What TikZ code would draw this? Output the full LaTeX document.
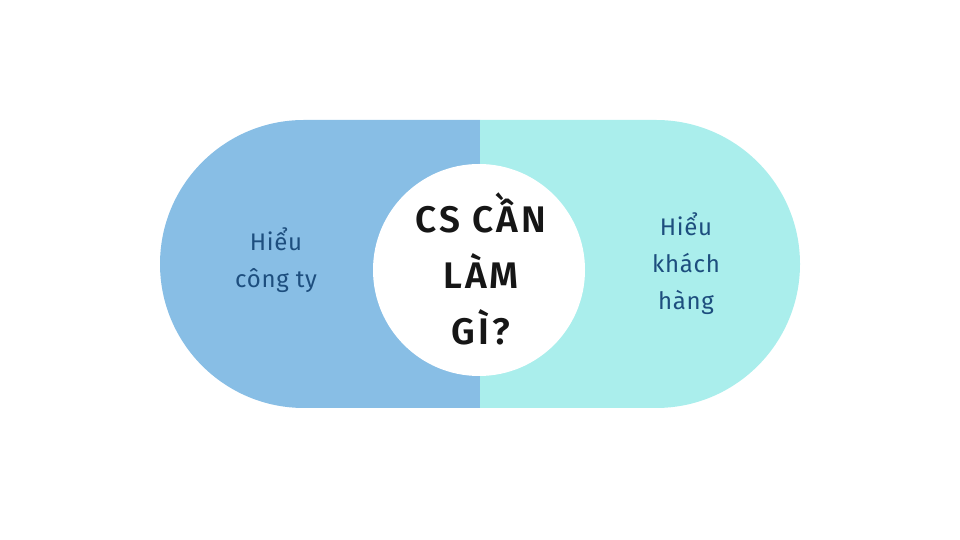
\documentclass[tikz,border=0pt]{standalone}
\usepackage{fontspec}
\setmainfont{Fira Sans}
\newfontfamily\titlefont[LetterSpace=8]{Fira Sans SemiBold}
\definecolor{leftblue}{HTML}{88BEE5}
\definecolor{rightcyan}{HTML}{AAEEEC}
\definecolor{textblue}{HTML}{1D4E7E}
\definecolor{titleblack}{HTML}{161616}
\begin{document}
\begin{tikzpicture}[x=1pt,y=1pt,
  sidetext/.style={text=textblue, font=\fontsize{24}{37}\selectfont\addfontfeatures{LetterSpace=3}, align=center, inner sep=0pt},
  titletext/.style={text=titleblack, font=\fontsize{37}{56}\titlefont, align=center, inner sep=0pt}]
\useasboundingbox (0,0) rectangle (960,540);
\fill[leftblue] (480,420) -- (304,420) arc[start angle=90, end angle=270, radius=144] -- (480,132) -- cycle;
\fill[rightcyan] (480,420) -- (656,420) arc[start angle=90, end angle=-90, radius=144] -- (480,132) -- cycle;
\node[circle, fill=white, minimum size=212pt, inner sep=0pt] (hub) at (479,270) {};
\node[titletext] (title) at (481,271) {CS CẦN\\LÀM\\GÌ?};
\node[sidetext] (left) at (276,280) {Hiểu\\công ty};
\node[sidetext] (right) at (686,276) {Hiểu\\khách\\hàng};
\end{tikzpicture}
\end{document}
